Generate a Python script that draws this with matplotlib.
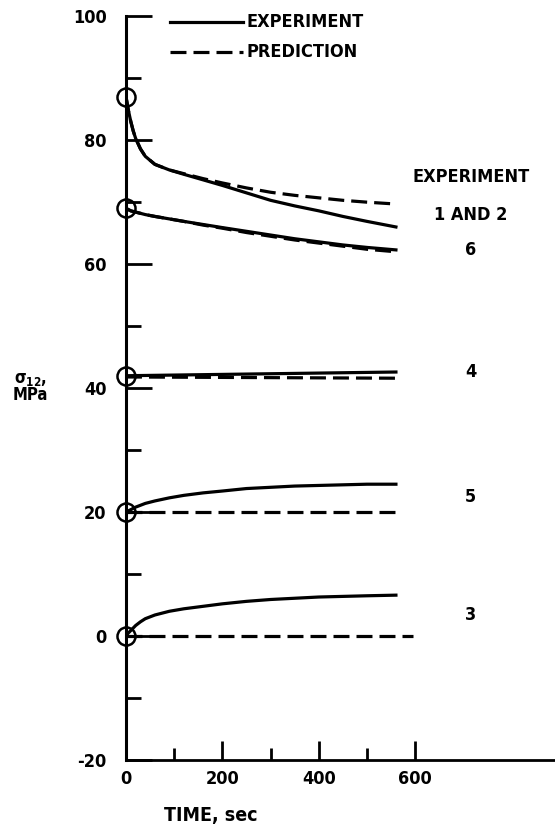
import matplotlib
matplotlib.use("Agg")
import matplotlib.pyplot as plt

plt.rcParams['font.family'] = ['DejaVu Sans']
plt.rcParams['font.stretch'] = 'condensed'
plt.rcParams['font.weight'] = 'bold'
plt.rcParams['axes.unicode_minus'] = False

# time samples (s)
t = [0, 5, 10, 15, 20, 30, 40, 60, 90, 120, 160, 200, 250, 300, 350, 400, 450, 500, 560]

# experiment 1 and 2
exp12 = [87, 84.8, 83.0, 81.5, 80.3, 78.6, 77.4, 76.1, 75.2, 74.5, 73.6, 72.7,
         71.5, 70.3, 69.4, 68.6, 67.7, 66.9, 66.0]
pred12 = [87, 84.8, 83.0, 81.5, 80.3, 78.6, 77.4, 76.1, 75.2, 74.6, 73.8, 73.1,
          72.3, 71.6, 71.1, 70.7, 70.3, 70.0, 69.7]
# experiment 6
exp6 = [69, 68.8, 68.6, 68.5, 68.4, 68.2, 68.0, 67.7, 67.3, 66.9, 66.4, 65.9,
        65.3, 64.7, 64.1, 63.6, 63.1, 62.7, 62.3]
pred6 = [69, 68.8, 68.6, 68.5, 68.4, 68.2, 68.0, 67.7, 67.3, 66.9, 66.3, 65.8,
         65.1, 64.5, 63.9, 63.4, 62.9, 62.4, 62.0]
# experiment 4
t4 = [0, 560]
exp4 = [42, 42.6]
pred4 = [41.8, 41.6]
# experiment 5
exp5 = [20, 20.2, 20.4, 20.6, 20.8, 21.1, 21.4, 21.8, 22.3, 22.7, 23.1, 23.4,
        23.8, 24.0, 24.2, 24.3, 24.4, 24.5, 24.5]
t5p = [0, 570]
pred5 = [20, 20]
# experiment 3
exp3 = [0, 0.5, 0.9, 1.3, 1.7, 2.3, 2.8, 3.4, 4.0, 4.4, 4.8, 5.2,
        5.6, 5.9, 6.1, 6.3, 6.4, 6.5, 6.6]
t3p = [0, 595]
pred3 = [0, 0]

start_vals = [87, 69, 42, 20, 0]

right_labels = ["EXPERIMENT", "1 AND 2", "6", "4", "5", "3"]
right_label_y = [74.0, 67.9, 62.3, 42.6, 22.4, 3.4]

ytick_vals = [-20, 0, 20, 40, 60, 80, 100]
ytick_labels = ['-20', '0', '20', '40', '60', '80', '100']
xtick_vals = [0, 200, 400, 600]
xtick_labels = ['0', '200', '400', '600']

fig = plt.figure(figsize=(5.55, 8.32), dpi=100)
ax = fig.add_axes([0.227, 0.0865, 0.773, 0.894])

lw = 2.3
dash = (0, (5, 2.2))
ax.plot(t, exp12, color='black', lw=lw)
ax.plot(t, pred12, color='black', lw=lw, linestyle=dash)
ax.plot(t, exp6, color='black', lw=lw)
ax.plot(t, pred6, color='black', lw=lw, linestyle=dash)
ax.plot(t4, exp4, color='black', lw=lw)
ax.plot(t4, pred4, color='black', lw=lw, linestyle=dash)
ax.plot(t, exp5, color='black', lw=lw)
ax.plot(t5p, pred5, color='black', lw=lw, linestyle=dash)
ax.plot(t, exp3, color='black', lw=lw)
ax.plot(t3p, pred3, color='black', lw=lw, linestyle=dash)

ax.plot([0] * len(start_vals), start_vals, linestyle='none', marker='o',
        markersize=13, markerfacecolor='none', markeredgecolor='black',
        markeredgewidth=1.8, clip_on=False, zorder=5)

ax.set_xlim(0, 890)
ax.set_ylim(-20, 100)

for s in ['top', 'right']:
    ax.spines[s].set_visible(False)
ax.spines['left'].set_linewidth(2.2)
ax.spines['bottom'].set_linewidth(2.0)

ax.set_yticks(ytick_vals)
ax.set_yticklabels(ytick_labels)
ax.set_yticks([-10, 10, 30, 50, 70, 90], minor=True)
ax.set_xticks(xtick_vals)
ax.set_xticklabels(xtick_labels)
ax.set_xticks([100, 300, 500], minor=True)
ax.tick_params(axis='y', which='major', direction='in', length=19, width=2.0,
               labelsize=13, pad=14)
ax.tick_params(axis='y', which='minor', direction='in', length=11, width=2.0)
ax.tick_params(axis='x', which='major', direction='in', length=14, width=2.0,
               labelsize=13, pad=7)
ax.tick_params(axis='x', which='minor', direction='in', length=9, width=2.0)
for lab in ax.get_xticklabels() + ax.get_yticklabels():
    lab.set_fontweight('bold')

ax.set_xlabel('TIME, sec', fontsize=14, fontweight='bold')
ax.xaxis.set_label_coords(175 / 890, -0.062)

fig.text(0.055, 0.535, 'σ$_{12}$,\nMPa', fontsize=12, fontweight='bold',
         ha='center', va='center', linespacing=0.9)

for lbl, yv in zip(right_labels, right_label_y):
    ax.text(715, yv, lbl, fontsize=13, fontweight='bold', ha='center',
            va='center')

# legend
ax.plot([92, 243], [99.0, 99.0], color='black', lw=lw, clip_on=False)
ax.text(250, 99.0, 'EXPERIMENT', fontsize=13, fontweight='bold', va='center')
ax.plot([92, 243], [94.2, 94.2], color='black', lw=lw, linestyle=dash, clip_on=False)
ax.text(250, 94.2, 'PREDICTION', fontsize=13, fontweight='bold', va='center')

fig.savefig('out.png', dpi=100)
